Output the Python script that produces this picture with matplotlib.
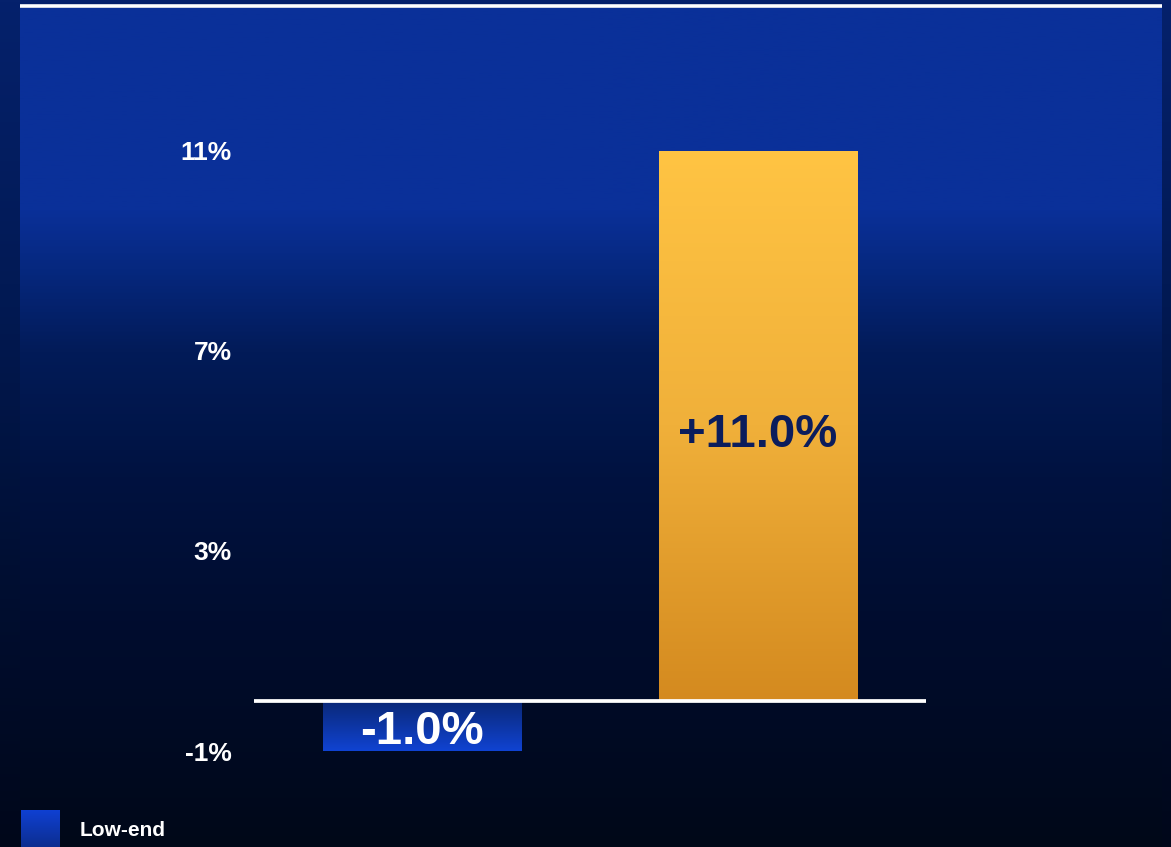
import numpy as np
import matplotlib
matplotlib.use("Agg")
import matplotlib.pyplot as plt
from matplotlib.colors import LinearSegmentedColormap

plt.rcParams['font.family'] = ['Liberation Sans', 'DejaVu Sans']

categories = ['Low-end', 'High-end']
values = [-1.0, 11.0]
value_labels = ['-1.0%', '+11.0%']
yticks = [-1, 3, 7, 11]
ytick_labels = ['-1%', '3%', '7%', '11%']

W, H = 1171, 847
fig = plt.figure(figsize=(W / 100, H / 100), dpi=100)

# outer background
bg = fig.add_axes([0, 0, 1, 1], zorder=0)
outer = LinearSegmentedColormap.from_list('outer', ['#05216c', '#021a55', '#000f33', '#00071a'])
bg.imshow(np.linspace(0, 1, 256).reshape(-1, 1), cmap=outer, aspect='auto', extent=[0, 1, 0, 1])
bg.set_xlim(0, 1)
bg.set_ylim(0, 1)
bg.axis('off')

# inner panel
px0, px1, ptop = 20, 1162, 8
panel = fig.add_axes([px0 / W, 0, (px1 - px0) / W, (H - ptop) / H], zorder=1)
inner = LinearSegmentedColormap.from_list(
    'inner',
    [(0.0, '#0a3099'), (0.24, '#0a3099'), (0.31, '#06287f'), (0.41, '#021b58'),
     (0.56, '#001240'), (0.72, '#000d30'), (1.0, '#000818')])
panel.imshow(np.linspace(0, 1, 512).reshape(-1, 1), cmap=inner, aspect='auto', extent=[0, 1, 0, 1])
panel.set_xlim(0, 1)
panel.set_ylim(0, 1)
panel.axis('off')

# white line at top
fig.add_artist(plt.Line2D([px0 / W, px1 / W], [1 - 6.5 / H, 1 - 6.5 / H],
                          color='white', lw=2.6, solid_capstyle='butt',
                          transform=fig.transFigure, zorder=2))

# main chart
ax = fig.add_axes([254 / W, (H - 751) / H, 672 / W, 600 / H], zorder=3)
ax.patch.set_alpha(0)
ax.set_xlim(-0.5, 1.5)
ax.set_ylim(-1, 11)
for s in ax.spines.values():
    s.set_visible(False)
ax.set_xticks([])
ax.set_yticks(yticks)
ax.set_yticklabels(ytick_labels, color='white', fontsize=19, fontweight='bold')
ax.tick_params(axis='y', length=0, pad=16)

x = np.arange(len(values))
bars = ax.bar(x, values, width=0.59, color='none', zorder=2)

grads = [
    LinearSegmentedColormap.from_list('b', ['#0a2877', '#1043d2']),   # top -> bottom
    LinearSegmentedColormap.from_list('o', ['#ffc443', '#f0b03a', '#d48a1f']),
]
for bar, cm in zip(bars, grads):
    bx, by = bar.get_x(), bar.get_y()
    bw, bh = bar.get_width(), bar.get_height()
    y0, y1 = min(by, by + bh), max(by, by + bh)
    im = ax.imshow(np.linspace(0, 1, 256).reshape(-1, 1), cmap=cm, aspect='auto',
                   extent=[bx, bx + bw, y0, y1], zorder=2)
    im.set_clip_path(bar)

ax.axhline(0, color='white', lw=2.7, zorder=4)

label_colors = ['white', '#0b1d5c']
label_offsets = [-0.12, -0.18]
for xi, v, lab, c, off in zip(x, values, value_labels, label_colors, label_offsets):
    ax.text(xi, v / 2 + off, lab, ha='center', va='center',
            fontsize=34, fontweight='bold', color=c, zorder=5)

ax.set_xlim(-0.5, 1.5)
ax.set_ylim(-1, 11)

# legend entry (cut off at bottom)
lg = fig.add_axes([21 / W, (H - 850) / H, 39 / W, 40 / H], zorder=4)
lg.imshow(np.linspace(0, 1, 64).reshape(-1, 1),
          cmap=LinearSegmentedColormap.from_list('l', ['#0f40d2', '#0c2c8a']),
          aspect='auto', extent=[0, 1, 0, 1])
lg.axis('off')
fig.text(80 / W, 1 - 830 / H, categories[0], color='white', fontsize=15,
         fontweight='bold', va='center', ha='left', zorder=5)

fig.savefig('out.png', dpi=100)
